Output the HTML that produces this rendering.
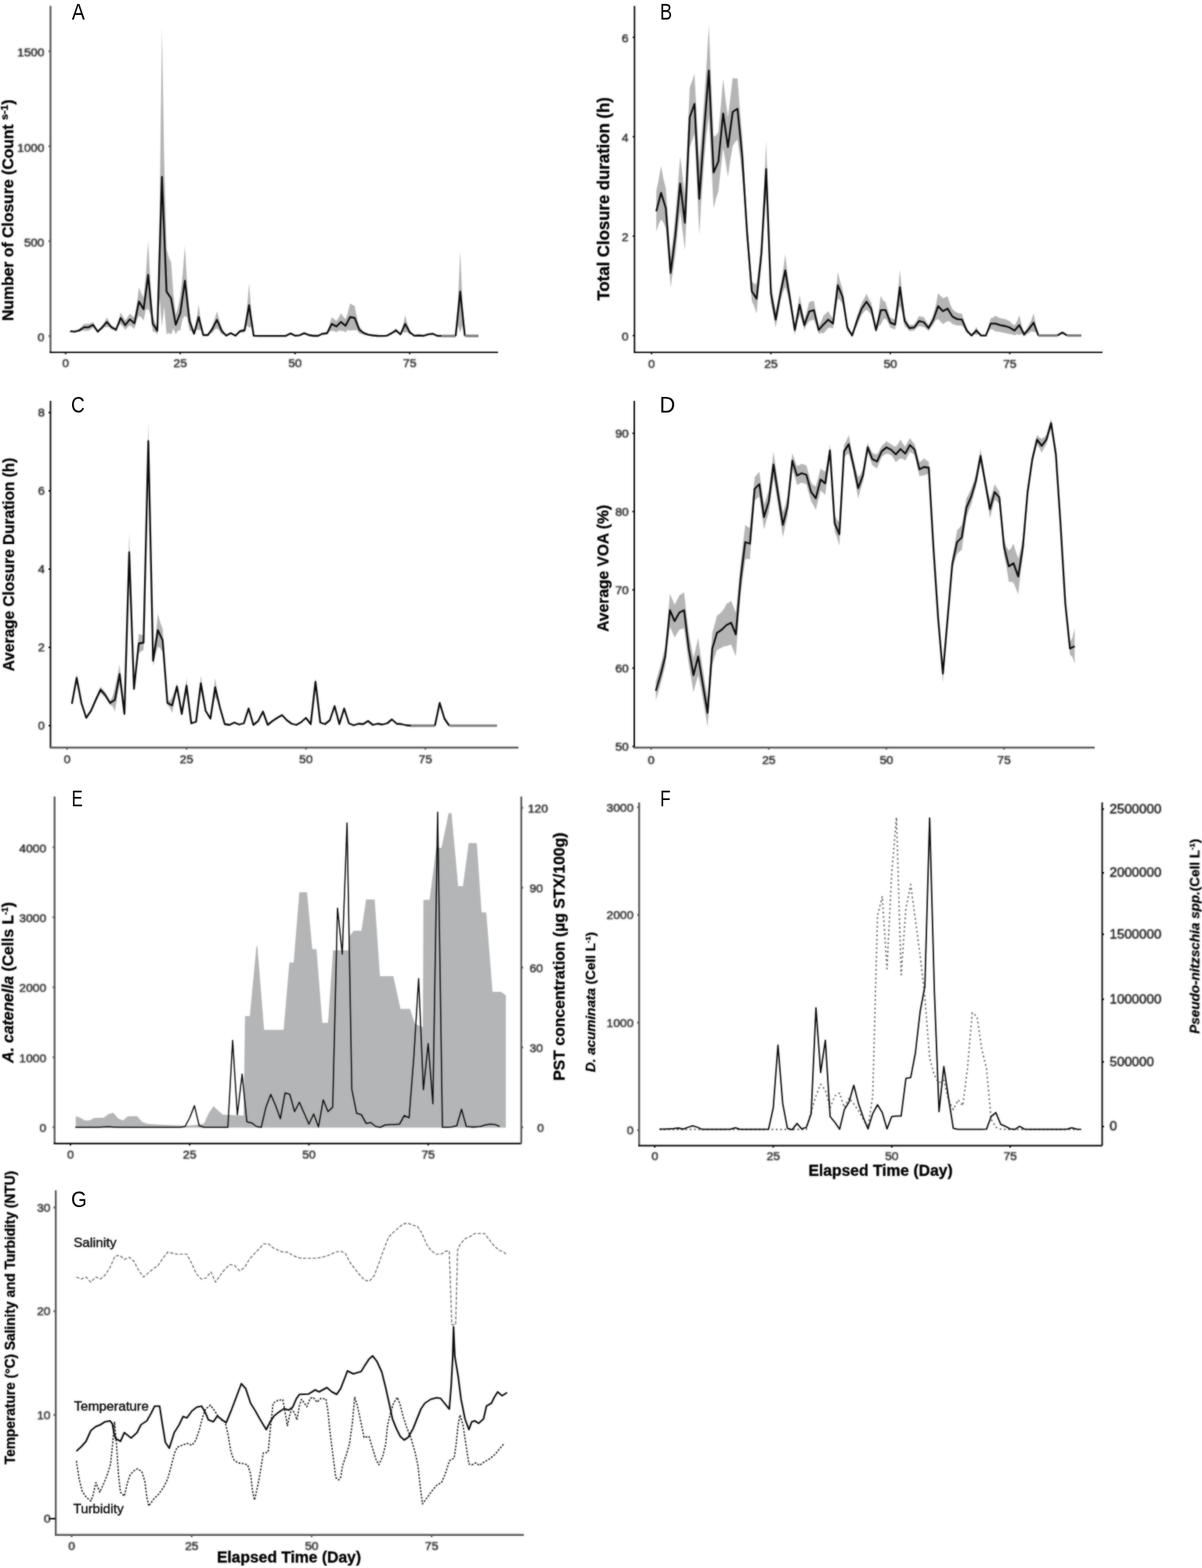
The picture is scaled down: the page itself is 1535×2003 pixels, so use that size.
<!DOCTYPE html>
<html lang="en"><head><meta charset="utf-8"><title>Figure</title>
<style>
html,body{margin:0;padding:0;background:#fff}
body{width:1535px;height:2003px;overflow:hidden}
svg{display:block;font-family:"Liberation Sans",sans-serif}
.tk text{font-size:15.5px;fill:#262626;stroke:#262626;stroke-width:0.5px}
.tk2 text{font-size:17px;fill:#111;stroke:#111;stroke-width:0.45px}
.ti{font-weight:bold;fill:#000;stroke:#000;stroke-width:0.35px}
.lt{fill:#000}
.lb{font-size:17px;fill:#0a0a0a;stroke:#0a0a0a;stroke-width:0.42px}
</style></head><body>
<svg width="1535" height="2003" viewBox="0 0 1535 2003">
<defs><filter id="bl" filterUnits="userSpaceOnUse" x="0" y="0" width="1535" height="2003" color-interpolation-filters="sRGB"><feGaussianBlur stdDeviation="1" result="b"/><feComposite in="b" in2="SourceGraphic" operator="arithmetic" k1="0" k2="0.55" k3="0.45" k4="0"/></filter><filter id="bt" filterUnits="userSpaceOnUse" x="0" y="0" width="1535" height="2003" color-interpolation-filters="sRGB"><feGaussianBlur stdDeviation="1" result="b"/><feComposite in="b" in2="SourceGraphic" operator="arithmetic" k1="0" k2="0.78" k3="0.22" k4="0"/></filter></defs>
<rect width="1535" height="2003" fill="#fff"/>
<g filter="url(#bl)">
<g id="pA">
<g class="dat">
<polygon points="89.6,422.5 92.5,422.7 95.5,422.9 98.4,421.8 101.3,420 104.3,417.4 107.2,413.7 110.1,413.7 113,413.7 116,412.7 118.9,411.3 121.8,417.4 124.8,422.5 127.7,419.3 130.6,415.7 133.6,411.3 136.5,405.2 139.4,411.3 142.3,415.7 145.3,417.6 148.2,419.3 151.1,410.3 154.1,398.9 157,404.4 159.9,409.4 162.9,405.3 165.8,400.6 168.7,403.2 171.7,405.7 174.6,388.8 177.5,366.9 180.4,374.5 183.4,380.5 186.3,350.6 189.2,307.5 192.2,363.4 195.1,404 198,411.9 200.9,417.6 203.9,268 206.8,34.5 209.7,207 212.7,317.9 215.6,328.5 218.5,335.2 221.5,376.6 224.4,402.8 227.3,392.8 230.2,378.3 233.2,351.3 236.1,313.8 239,363.3 242,398 244.9,413.5 247.8,424.4 250.8,409.8 253.7,388.8 256.6,411.3 259.6,427.1 262.5,427.1 265.4,427.1 268.3,422 271.3,415.2 274.2,407.8 277.1,397.5 280.1,409 283,417.6 285.9,423.9 288.9,428.3 291.8,426.5 294.7,424.4 297.6,426.5 300.6,428.3 303.5,425.1 306.4,421.2 309.4,420.5 312.3,419.6 315.2,396.3 318.1,361.4 321.1,401.1 324,428.3 326.9,428.9 329.9,429.2 332.8,429.2 335.7,429.2 338.7,429.2 341.6,429.2 344.5,429.2 347.4,429.2 350.4,429.2 353.3,429.2 356.2,429.2 359.2,429.2 362.1,429.1 365,428.8 368,427 370.9,424.9 373.8,426.9 376.8,428.5 379.7,428.2 382.6,427.8 385.5,426.3 388.5,424.6 391.4,426.2 394.3,427.6 397.3,428.2 400.2,428.8 403.1,428.8 406.1,428.8 409,427.2 411.9,425.1 414.8,424.6 417.8,423.7 420.7,415.9 423.6,405 426.6,407.8 429.5,409.9 432.4,405.9 435.4,400.1 438.3,404.5 441.2,407.7 444.1,399.6 447.1,387.5 450,389.4 452.9,390.4 455.9,405.9 458.8,416.4 461.7,420.7 464.7,423.7 467.6,425.3 470.5,426.6 473.4,427.4 476.4,428 479.3,428.5 482.2,428.8 485.2,429.1 488.1,429.2 491,428.9 494,428.5 496.9,426.8 499.8,424.6 502.7,422.4 505.7,419.6 508.6,423 511.5,425.9 514.5,416.5 517.4,402.6 520.3,413.9 523.2,421.5 526.2,425.4 529.1,428.3 532,428.2 535,428 537.9,428.5 540.8,428.8 543.8,427.6 546.7,426.1 549.6,425.7 552.5,425.1 555.5,427.2 558.4,428.8 561.3,429.1 564.3,429.2 567.2,429.2 570.1,429.2 573.1,429.2 576,429.2 578.9,429.2 581.9,429.2 584.8,386.5 587.7,320.1 590.6,385.9 593.6,428.3 596.5,428.9 599.4,429.2 602.4,429.2 605.3,429.2 608.2,429.2 611.1,429.2 611.1,429.2 608.2,429.2 605.3,429.2 602.4,429.2 599.4,429.2 596.5,429.1 593.6,429.2 590.6,415.4 587.7,424.9 584.8,415.3 581.9,429.2 578.9,429.2 576,429.2 573.1,429.2 570.1,429.2 567.2,429.2 564.3,429.2 561.3,429.2 558.4,429.2 555.5,428.2 552.5,427.6 549.6,427.7 546.7,428 543.8,428.5 540.8,429.2 537.9,429.1 535,429 532,429.1 529.1,429.2 526.2,427.7 523.2,427.3 520.3,424.2 517.4,424.9 514.5,424.3 511.5,428.3 508.6,426.1 505.7,424.4 502.7,425.5 499.8,427.1 496.9,427.8 494,429 491,429.1 488.1,429.2 485.2,429.2 482.2,429.2 479.3,429.1 476.4,429 473.4,428.7 470.5,428.5 467.6,427.8 464.7,427.6 461.7,426.2 458.8,426.1 455.9,421.6 452.9,422 450,421.8 447.1,422.5 444.1,421.5 441.2,424.6 438.3,423 435.4,422.5 432.4,422.6 429.5,424.4 426.6,423.1 423.6,422.5 420.7,423.5 417.8,427.6 414.8,427.4 411.9,427.6 409,428.2 406.1,429.2 403.1,429.2 400.2,429.2 397.3,428.8 394.3,428.5 391.4,427.4 388.5,426.6 385.5,427.6 382.6,428.8 379.7,428.8 376.8,429 373.8,427.8 370.9,426.8 368,427.9 365,429.2 362.1,429.2 359.2,429.2 356.2,429.2 353.3,429.2 350.4,429.2 347.4,429.2 344.5,429.2 341.6,429.2 338.7,429.2 335.7,429.2 332.8,429.2 329.9,429.2 326.9,429.1 324,429.2 321.1,417.6 318.1,418.6 315.2,415.6 312.3,424.4 309.4,424.7 306.4,425.1 303.5,426.9 300.6,429.2 297.6,427.9 294.7,426.8 291.8,427.9 288.9,429.2 285.9,427.3 283,427.3 280.1,422.1 277.1,419.8 274.2,420.9 271.3,424.9 268.3,426.1 265.4,429 262.5,429 259.6,429 256.6,421.7 253.7,421.2 250.8,421.5 247.8,428.3 244.9,423 242,422.2 239,405.5 236.1,403.5 233.2,407.6 230.2,422 227.3,422.3 224.4,427.1 221.5,419.6 218.5,427.3 215.6,425.3 212.7,427.1 209.7,391.5 206.8,417.6 203.9,380.4 200.9,427.3 198,424.3 195.1,423.4 192.2,401.5 189.2,394.8 186.3,395.7 183.4,409.6 180.4,405.6 177.5,403.3 174.6,409.3 171.7,420.3 168.7,417.7 165.8,415.2 162.9,418.1 159.9,421.5 157,417.2 154.1,413.5 151.1,417.1 148.2,423.2 145.3,421.7 142.3,420.5 139.4,418.1 136.5,417.4 133.6,418.1 130.6,420.5 127.7,422.4 124.8,424.9 121.8,421.2 118.9,418.6 116,420.4 113,422.5 110.1,422.5 107.2,422.5 104.3,422.6 101.3,423.9 98.4,423.9 95.5,424.4 92.5,424.2 89.6,423.9" fill="#b5b5b5" opacity="1"/>
<polyline points="89.6,423.2 95.5,423.7 101.3,422 107.2,418.1 113,418.1 118.9,414.9 124.8,423.7 130.6,418.1 136.5,411.3 142.3,418.1 148.2,421.2 154.1,406.2 159.9,415.4 165.8,407.9 171.7,413 177.5,385.1 183.4,395.1 189.2,351.2 195.1,413.7 200.9,422.5 206.8,226 212.7,372.5 218.5,381.2 224.4,414.9 230.2,400.1 236.1,358.7 242,410.1 247.8,426.3 253.7,405 259.6,428 265.4,428 271.3,420 277.1,408.6 283,422.5 288.9,428.8 294.7,425.6 300.6,428.8 306.4,423.2 312.3,422 318.1,390 324,428.8 329.9,429.2 335.7,429.2 341.6,429.2 347.4,429.2 353.3,429.2 359.2,429.2 365,429 370.9,425.9 376.8,428.8 382.6,428.3 388.5,425.6 394.3,428 400.2,429 406.1,429 411.9,426.3 417.8,425.6 423.6,413.7 429.5,417.1 435.4,411.3 441.2,416.2 447.1,405 452.9,406.2 458.8,421.2 464.7,425.6 470.5,427.6 476.4,428.5 482.2,429 488.1,429.2 494,428.8 499.8,425.9 505.7,422 511.5,427.1 517.4,413.7 523.2,424.4 529.1,428.8 535,428.5 540.8,429 546.7,427.1 552.5,426.3 558.4,429 564.3,429.2" fill="none" stroke="#0a0a0a" stroke-width="2.3" stroke-linejoin="round"/>
<polyline points="564.3,429.2 570.1,429.2 576,429.2 581.9,429.2" fill="none" stroke="#7d7d7d" stroke-width="3.1999999999999997" stroke-linejoin="round"/>
<polyline points="581.9,429.2 587.7,372.5 593.6,428.8" fill="none" stroke="#0a0a0a" stroke-width="2.3" stroke-linejoin="round"/>
<polyline points="593.6,428.8 599.4,429.2 605.3,429.2 611.1,429.2" fill="none" stroke="#7d7d7d" stroke-width="3.1999999999999997" stroke-linejoin="round"/>
</g>
<g class="dec">
<path d="M64.5,7.5V450.1M64.5,429.2h-2.4M64.5,308h-2.4M64.5,186.8h-2.4M64.5,65.5h-2.4" fill="none" stroke="#5a5a5a" stroke-width="2.4"/>
<path d="M63.3,450.1H636M83.8,450.1v2.4M230.2,450.1v2.4M376.8,450.1v2.4M523.2,450.1v2.4" fill="none" stroke="#000" stroke-width="1.9"/>
<text class="ti" font-size="20.1" text-anchor="middle" transform="translate(17,268.5) rotate(-90)">Number of Closure (Count <tspan dy="-7" font-size="13.5">s-1</tspan><tspan dy="7">)</tspan></text>
</g>
</g>
<g id="pB">
<g class="dat">
<polygon points="838.1,243.8 841.1,229.8 844.2,212.1 847.2,228.4 850.3,240.6 853.4,286.5 856.4,329.5 859.5,303.7 862.5,274.9 865.5,239.3 868.6,199.4 871.6,224.4 874.7,249.5 877.8,181.3 880.8,111.7 883.9,103.2 886.9,94.6 890,153 893,207.6 896,170.7 899.1,130.2 902.1,85.5 905.2,31.7 908.2,106 911.3,174.6 914.4,173.1 917.4,168.3 920.5,135.7 923.5,100.3 926.5,126.5 929.6,149.8 932.6,125.7 935.7,99 938.8,100.4 941.8,99.7 944.9,140.3 947.9,174.6 951,232.1 954,283.8 957,321.6 960.1,359.4 963.1,362.4 966.2,362.6 969.2,338.6 972.3,311.8 975.4,250.8 978.4,179 981.5,275.9 984.5,361.9 987.5,380.6 990.6,398.1 993.6,381.8 996.7,365.1 999.8,347.4 1002.8,324.5 1005.9,351.2 1008.9,372.7 1012,394.7 1015,415.3 1018,397.3 1021.1,376.5 1024.2,394.2 1027.2,408.9 1030.2,398.8 1033.3,386.1 1036.3,385.1 1039.4,384.2 1042.5,401.9 1045.5,416.5 1048.5,411.3 1051.6,403.2 1054.7,400.5 1057.7,397.5 1060.8,403.2 1063.8,407 1066.8,379.6 1069.9,347.3 1073,360.1 1076,369.5 1079,392.5 1082.1,413.4 1085.2,421.2 1088.2,427.3 1091.2,416.7 1094.3,403.8 1097.3,395.5 1100.4,386.7 1103.5,381.5 1106.5,375.3 1109.5,381.5 1112.6,386.7 1115.7,403.1 1118.7,417.8 1121.8,401.1 1124.8,377.8 1127.8,383.8 1130.9,386.1 1134,396.8 1137,405.7 1140,407 1143.1,408.3 1146.2,379.9 1149.2,344.1 1152.2,377.7 1155.3,403.8 1158.3,410.1 1161.4,415.3 1164.5,414.9 1167.5,414.6 1170.5,409.8 1173.6,403.8 1176.7,404.5 1179.7,405.1 1182.8,410.8 1185.8,415.3 1188.8,409.2 1191.9,401.9 1195,390.6 1198,374.6 1201,377.8 1204.1,381 1207.2,379.8 1210.2,378.4 1213.2,388.1 1216.3,394.9 1219.3,397.5 1222.4,399.4 1225.5,400.2 1228.5,400.7 1231.5,410.9 1234.6,419.1 1237.7,424.1 1240.7,428 1243.8,423.6 1246.8,417.2 1249.8,423.6 1252.9,428 1256,428 1259,428 1262,418.6 1265.1,406.4 1268.2,405.5 1271.2,403.2 1274.2,405.1 1277.3,406.4 1280.3,407 1283.4,407.6 1286.5,409.1 1289.5,410.2 1292.5,413.5 1295.6,415.9 1298.7,410.7 1301.7,402.6 1304.8,416 1307.8,424.8 1310.8,420.6 1313.9,415.3 1317,409.2 1320,400 1323,416.6 1326.1,428 1329.2,428.4 1332.2,428.6 1335.2,428.6 1338.3,428.6 1341.3,428.6 1344.4,428.6 1347.4,428.6 1350.5,428.6 1353.5,426.2 1356.6,422.9 1359.7,426.2 1362.7,428.6 1365.8,428.6 1368.8,428.6 1371.8,428.6 1374.9,428.6 1377.9,428.6 1381,428.6 1381,428.6 1377.9,428.6 1374.9,428.6 1371.8,428.6 1368.8,428.6 1365.8,428.6 1362.7,428.6 1359.7,427.2 1356.6,426.7 1353.5,427.2 1350.5,428.6 1347.4,428.6 1344.4,428.6 1341.3,428.6 1338.3,428.6 1335.2,428.6 1332.2,428.6 1329.2,428.8 1326.1,429.2 1323,424.1 1320,424.2 1317,423.2 1313.9,425.4 1310.8,427.1 1307.8,429.9 1304.8,426.6 1301.7,428 1298.7,426.9 1295.6,428.6 1292.5,427.2 1289.5,426.7 1286.5,425.9 1283.4,425.4 1280.3,424.8 1277.3,424.2 1274.2,423.6 1271.2,423.5 1268.2,421.2 1265.1,420.3 1262,423.4 1259,429.2 1256,429.2 1252.9,429.2 1249.8,427.3 1246.8,427.3 1243.8,427.3 1240.7,429.2 1237.7,426.8 1234.6,425.4 1231.5,419.7 1228.5,415.9 1225.5,415.8 1222.4,415.9 1219.3,414.7 1216.3,414 1213.2,410.7 1210.2,410.2 1207.2,411.9 1204.1,414 1201,410.8 1198,407.6 1195,408.9 1191.9,414.6 1188.8,418.2 1185.8,422.9 1182.8,419.8 1179.7,417.8 1176.7,417.2 1173.6,416.5 1170.5,418.8 1167.5,422.2 1164.5,422.6 1161.4,422.9 1158.3,419.1 1155.3,416.5 1152.2,399.5 1149.2,389.9 1146.2,401.7 1143.1,421 1140,419.7 1137,418.4 1134,411.6 1130.9,406.4 1127.8,408.6 1124.8,414.6 1121.8,416.7 1118.7,425.4 1115.7,412.8 1112.6,401.9 1109.5,398.2 1106.5,395.6 1103.5,398.2 1100.4,401.9 1097.3,408.9 1094.3,416.5 1091.2,422.1 1088.2,429.9 1085.2,425.8 1082.1,423.5 1079,405.1 1076,388.6 1073,383.4 1069.9,381.6 1066.8,398.2 1063.8,419.7 1060.8,418.4 1057.7,419.1 1054.7,422.4 1051.6,426.1 1048.5,424.9 1045.5,426.7 1042.5,415.9 1039.4,408.3 1036.3,409.2 1033.3,410.2 1030.2,414.6 1027.2,421.6 1024.2,410.3 1021.1,401.9 1018,413.5 1015,428 1012,409.2 1008.9,391.8 1005.9,376.5 1002.8,366.4 999.8,372.7 996.7,384.2 993.6,401.2 990.6,418.4 987.5,402.3 984.5,387.3 981.5,314.6 978.4,252.7 975.4,289.5 972.3,337.2 969.2,367.5 966.2,400.7 963.1,391.3 960.1,384.8 957,347 954,309.2 951,264.5 947.9,225.4 944.9,198.8 941.8,178.4 938.8,181.5 935.7,186.7 932.6,205.1 929.6,226 926.5,206.2 923.5,189.2 920.5,215.4 917.4,244.5 914.4,253.5 911.3,266 908.2,204.4 905.2,148.6 902.1,172.9 899.1,206.4 896,251.5 893,300.3 890,233.7 886.9,170.8 883.9,179.4 880.8,187.9 877.8,252.9 874.7,319.4 871.6,294.3 868.6,269.2 865.5,295.3 862.5,325.7 859.5,345.3 856.4,367.6 853.4,328.1 850.3,291.4 847.2,284 844.2,280.6 841.1,286.4 838.1,295.9" fill="#b5b5b5" opacity="1"/>
<polyline points="838.1,269.9 844.2,246.4 850.3,266 856.4,348.6 862.5,300.3 868.6,234.3 874.7,284.5 880.8,149.8 886.9,132.7 893,254 899.1,168.3 905.2,90.1 911.3,220.3 917.4,206.4 923.5,144.8 929.6,187.9 935.7,142.9 941.8,139 947.9,200 954,296.5 960.1,372.1 966.2,381.6 972.3,324.5 978.4,215.9 984.5,374.6 990.6,408.3 996.7,374.6 1002.8,345.4 1008.9,382.2 1015,421.6 1021.1,389.2 1027.2,415.3 1033.3,398.1 1039.4,396.2 1045.5,421.6 1051.6,414.6 1057.7,408.3 1063.8,413.4 1069.9,364.5 1076,379.1 1082.1,418.4 1088.2,428.6 1094.3,410.2 1100.4,394.3 1106.5,385.4 1112.6,394.3 1118.7,421.6 1124.8,396.2 1130.9,396.2 1137,412.1 1143.1,414.6 1149.2,367 1155.3,410.2 1161.4,419.1 1167.5,418.4 1173.6,410.2 1179.7,411.5 1185.8,419.1 1191.9,408.3 1198,391.1 1204.1,397.5 1210.2,394.3 1216.3,404.5 1222.4,407.6 1228.5,408.3 1234.6,422.2 1240.7,428.6 1246.8,422.2 1252.9,428.6 1259,428.6 1265.1,413.4 1271.2,413.4 1277.3,415.3 1283.4,416.5 1289.5,418.4 1295.6,422.2 1301.7,415.3 1307.8,427.3 1313.9,420.3 1320,412.1 1326.1,428.6" fill="none" stroke="#0a0a0a" stroke-width="2.3" stroke-linejoin="round"/>
<polyline points="1326.1,428.6 1332.2,428.6 1338.3,428.6 1344.4,428.6 1350.5,428.6" fill="none" stroke="#7d7d7d" stroke-width="3.1999999999999997" stroke-linejoin="round"/>
<polyline points="1350.5,428.6 1356.6,424.8 1362.7,428.6" fill="none" stroke="#0a0a0a" stroke-width="2.3" stroke-linejoin="round"/>
<polyline points="1362.7,428.6 1368.8,428.6 1374.9,428.6 1381,428.6" fill="none" stroke="#7d7d7d" stroke-width="3.1999999999999997" stroke-linejoin="round"/>
</g>
<g class="dec">
<path d="M810.3,7.5V450.1M810.3,428.6h-2.4M810.3,301.6h-2.4M810.3,174.6h-2.4M810.3,47.6h-2.4" fill="none" stroke="#000" stroke-width="1.9"/>
<path d="M809.3,450.1H1408M832,450.1v2.4M984.5,450.1v2.4M1137,450.1v2.4M1289.5,450.1v2.4" fill="none" stroke="#000" stroke-width="1.9"/>
<text class="ti" font-size="21.4" text-anchor="middle" transform="translate(778,254) rotate(-90)">Total Closure duration (h)</text>
</g>
</g>
<g id="pC">
<g class="dat">
<polygon points="91.8,896.5 94.8,879.2 97.9,860.5 101,878.6 104,895.4 107,906.1 110.1,916.1 113.2,911.4 116.2,906.3 119.2,898.9 122.3,891 125.3,884.2 128.4,876.9 131.4,880.8 134.5,884.5 137.6,890.1 140.6,895.4 143.7,890 146.7,879 149.8,864.3 152.8,848.5 155.8,882.1 158.9,910.6 161.9,800.9 165,680.5 168.1,782.8 171.1,875.8 174.1,844.5 177.2,809.5 180.2,811.1 183.3,811.5 186.3,678.5 189.4,538.5 192.4,691.5 195.5,836.5 198.6,813.3 201.6,784 204.6,794.9 207.7,803 210.8,852 213.8,895.4 216.9,894.9 219.9,891 222.9,883 226,872.5 229.1,892.3 232.1,910.6 235.1,890.3 238.2,866 241.2,897.1 244.3,923.7 247.3,922.7 250.4,921.5 253.4,894.4 256.5,863 259.6,886.5 262.6,906.3 265.6,911.9 268.7,917.2 271.8,894 274.8,865.5 277.8,886.1 280.9,901.9 283.9,913.8 287,924.8 290.1,925.4 293.1,925.9 296.1,924.3 299.2,922.6 302.2,924.1 305.3,925.4 308.3,924.6 311.4,923.7 314.4,913.8 317.5,903 320.6,914.9 323.6,925.9 326.6,923.3 329.7,920.5 332.8,914.2 335.8,907.4 338.8,917 341.9,925.9 344.9,923.3 348,920.5 351,918.4 354.1,916.1 357.1,914.3 360.2,912.3 363.2,916 366.3,919.4 369.3,921.9 372.4,924.3 375.4,925.1 378.5,925.9 381.5,924.1 384.6,922.1 387.6,919.2 390.7,916.1 393.7,920.6 396.8,924.8 399.8,896.5 402.9,866 405.9,895.4 409,922.6 412,923.8 415.1,924.8 418.1,922.2 421.2,919.4 424.2,909.9 427.3,899.8 430.3,912.8 433.4,924.8 436.4,914.3 439.5,903 442.5,913.8 445.6,923.7 448.6,925.1 451.7,926.5 454.7,925.4 457.8,924.3 460.8,924.6 463.9,924.8 466.9,922.7 470,920.5 473,923.3 476.1,925.9 479.1,925.1 482.2,924.3 485.2,924.8 488.3,925.4 491.3,924.6 494.4,923.7 497.4,921.1 500.5,918.3 503.5,921.4 506.6,924.3 509.6,924.6 512.7,924.8 515.8,925.7 518.8,926.5 521.9,926.7 524.9,927 528,927 531,927 534,927 537.1,927 540.1,927 543.2,927 546.2,927 549.3,927 552.4,927 555.4,927 558.5,911.8 561.5,895.4 564.5,906.7 567.6,917.2 570.6,922.3 573.7,927 576.8,927 579.8,927 582.9,927 585.9,927 588.9,927 592,927 595,927 598.1,927 601.1,927 604.2,927 607.2,927 610.3,927 613.4,927 616.4,927 619.5,927 622.5,927 625.6,927 628.6,927 631.6,927 634.7,927 634.7,927 631.6,927 628.6,927 625.6,927 622.5,927 619.5,927 616.4,927 613.4,927 610.3,927 607.2,927 604.2,927 601.1,927 598.1,927 595,927 592,927 588.9,927 585.9,927 582.9,927 579.8,927 576.8,927 573.7,927 570.6,922.7 567.6,918.8 564.5,909.3 561.5,900.6 558.5,913.2 555.4,927 552.4,927 549.3,927 546.2,927 543.2,927 540.1,927 537.1,927 534,927 531,927 528,927 524.9,927 521.9,926.8 518.8,926.5 515.8,925.8 512.7,925.2 509.6,924.9 506.6,924.7 503.5,922.1 500.5,919.7 497.4,921.9 494.4,924.3 491.3,924.9 488.3,925.6 485.2,925.2 482.2,924.7 479.1,925.4 476.1,926.1 473,923.7 470,921.5 466.9,923.3 463.9,925.2 460.8,924.9 457.8,924.7 454.7,925.6 451.7,926.5 448.6,925.4 445.6,924.3 442.5,915.2 439.5,907 436.4,915.7 433.4,925.2 430.3,914.2 427.3,904.2 424.2,912.1 421.2,920.6 418.1,922.8 415.1,925.2 412,924.2 409,923.4 405.9,898.6 402.9,876 399.8,899.5 396.8,925.2 393.7,921.4 390.7,917.9 387.6,920.3 384.6,922.9 381.5,924.4 378.5,926.1 375.4,925.4 372.4,924.7 369.3,922.6 366.3,920.6 363.2,917.5 360.2,914.7 357.1,916.2 354.1,917.9 351,919.6 348,921.5 344.9,923.7 341.9,926.1 338.8,918 335.8,910.6 332.8,915.8 329.7,921.5 326.6,923.7 323.6,926.1 320.6,916.1 317.5,907 314.4,915.2 311.4,924.3 308.3,924.9 305.3,925.6 302.2,924.4 299.2,923.4 296.1,924.7 293.1,926.1 290.1,925.6 287,925.2 283.9,915.2 280.9,906.1 277.8,895.9 274.8,890.5 271.8,902 268.7,918.8 265.6,914.1 262.6,909.7 259.6,894.5 256.5,883 253.4,900.6 250.4,922.5 247.3,923.3 244.3,924.3 241.2,902.9 238.2,886 235.1,897.7 232.1,913.4 229.1,896.7 226,881.5 222.9,895 219.9,911 216.9,904.1 213.8,900.6 210.8,864 207.7,833 204.6,828.1 201.6,826 198.6,835.7 195.5,851.5 192.4,716 189.4,588.5 186.3,706 183.3,830.5 180.2,831.9 177.2,834.5 174.1,857.5 171.1,884.2 168.1,802.7 165,730.5 161.9,816.6 158.9,913.4 155.8,890.9 152.8,873.5 149.8,890.7 146.7,909 143.7,902 140.6,900.6 137.6,895.9 134.5,891.5 131.4,888.2 128.4,885.1 125.3,890.8 122.3,897 119.2,903.1 116.2,909.7 113.2,913.6 110.1,917.9 107,908.9 104,900.6 101,885.4 97.9,871.5 94.8,885.8 91.8,901.5" fill="#b5b5b5" opacity="1"/>
<polyline points="91.8,899 97.9,866 104,898 110.1,917 116.2,908 122.3,894 128.4,881 134.5,888 140.6,898 146.7,894 152.8,861 158.9,912 165,705.5 171.1,880 177.2,822 183.3,821 189.4,563.5 195.5,844 201.6,805 207.7,818 213.8,898 219.9,901 226,877 232.1,912 238.2,876 244.3,924 250.4,922 256.5,873 262.6,908 268.7,918 274.8,878 280.9,904 287,925 293.1,926 299.2,923 305.3,925.5 311.4,924 317.5,905 323.6,926 329.7,921 335.8,909 341.9,926 348,921 354.1,917 360.2,913.5 366.3,920 372.4,924.5 378.5,926 384.6,922.5 390.7,917 396.8,925 402.9,871 409,923 415.1,925 421.2,920 427.3,902 433.4,925 439.5,905 445.6,924 451.7,926.5 457.8,924.5 463.9,925 470,921 476.1,926 482.2,924.5 488.3,925.5 494.4,924 500.5,919 506.6,924.5 512.7,925 518.8,926.5 524.9,927" fill="none" stroke="#0a0a0a" stroke-width="2.3" stroke-linejoin="round"/>
<polyline points="524.9,927 531,927 537.1,927 543.2,927 549.3,927 555.4,927" fill="none" stroke="#7d7d7d" stroke-width="3.1999999999999997" stroke-linejoin="round"/>
<polyline points="555.4,927 561.5,898 567.6,918 573.7,927" fill="none" stroke="#0a0a0a" stroke-width="2.3" stroke-linejoin="round"/>
<polyline points="573.7,927 579.8,927 585.9,927 592,927 598.1,927 604.2,927 610.3,927 616.4,927 622.5,927 628.6,927 634.7,927" fill="none" stroke="#7d7d7d" stroke-width="3.1999999999999997" stroke-linejoin="round"/>
</g>
<g class="dec">
<path d="M64.5,512V955M64.5,927h-2.4M64.5,827h-2.4M64.5,727h-2.4M64.5,627h-2.4M64.5,527h-2.4" fill="none" stroke="#000" stroke-width="1.9"/>
<path d="M63.5,955H662M85.7,955v2.4M238.2,955v2.4M390.7,955v2.4M543.2,955v2.4" fill="none" stroke="#5a5a5a" stroke-width="2.4"/>
<text class="ti" font-size="19.7" text-anchor="middle" transform="translate(17.5,721) rotate(-90)">Average Closure Duration (h)</text>
</g>
</g>
<g id="pD">
<g class="dat">
<polygon points="837.5,870.5 840.5,860.5 843.5,850.5 846.5,838.5 849.5,826.5 852.5,794.5 855.5,758.5 858.5,765.5 861.5,772.5 864.6,766.7 867.6,760.5 870.6,758.7 873.6,756.5 876.6,783.2 879.6,808.5 882.6,825 885.6,840.5 888.6,828 891.6,814.5 894.6,836.8 897.6,856.5 900.6,874.5 903.6,892.5 906.6,851 909.6,808.5 912.6,797.9 915.6,786.5 918.6,784.2 921.6,781.5 924.7,777.4 927.7,771.5 930.7,769.7 933.7,767.5 936.7,775 939.7,782.5 942.7,753.3 945.7,720.5 948.7,696 951.7,670.5 954.7,672.9 957.7,674.5 960.7,643.1 963.7,609.5 966.7,606.2 969.7,602.5 972.7,623.5 975.7,644.5 978.7,636 981.8,626.5 984.8,602.2 987.8,576.5 990.8,598.2 993.8,618.5 996.8,637 999.8,654.5 1002.8,645.4 1005.8,634.5 1008.8,607 1011.8,578.5 1014.8,587.4 1017.8,595.5 1020.8,594 1023.8,592.5 1026.8,593.5 1029.8,594.5 1032.8,605.5 1035.8,616.5 1038.8,619.7 1041.8,621.5 1044.9,610.2 1047.9,598.5 1050.9,600.7 1053.9,602.5 1056.9,586.6 1059.9,567.5 1062.9,613.4 1065.9,658.5 1068.9,664.1 1071.9,667.5 1074.9,619.6 1077.9,568.5 1080.9,562.9 1083.9,555.5 1086.9,571.9 1089.9,586.5 1092.9,599.3 1095.9,609.5 1098.9,605.9 1102,599.5 1105,582.9 1108,565.5 1111,572.4 1114,578.5 1117,579.7 1120,580.5 1123,575.4 1126,569.5 1129,566.7 1132,563.5 1135,565.7 1138,567.5 1141,569.7 1144,570.5 1147,566.4 1150,561.5 1153,566.7 1156,570.5 1159,565 1162,559.5 1165.1,564 1168.1,567.5 1171.1,579.5 1174.1,590.5 1177.1,588.4 1180.1,585.5 1183.1,588.2 1186.1,589.5 1189.1,642.5 1192.1,694.5 1195.1,740.2 1198.1,785.5 1201.1,818.6 1204.1,848.5 1207.1,817.9 1210.1,784.5 1213.1,749 1216.1,712.5 1219.1,696.6 1222.2,677.5 1225.2,674.2 1228.2,670.5 1231.2,654.4 1234.2,636.5 1237.2,630.9 1240.2,624.5 1243.2,615.9 1246.2,606.5 1249.2,590.2 1252.2,573.5 1255.2,592.7 1258.2,610.5 1261.2,625.9 1264.2,638.5 1267.2,628.9 1270.2,618.5 1273.2,623.4 1276.2,627.5 1279.2,658.4 1282.2,688.5 1285.3,698.2 1288.3,703.5 1291.3,700.1 1294.3,694.5 1297.3,704.4 1300.3,713.5 1303.3,702.5 1306.3,686.5 1309.3,655.9 1312.3,622.5 1315.3,602.2 1318.3,581.5 1321.3,568.7 1324.3,555.5 1327.3,558.7 1330.3,560.5 1333.3,558.7 1336.3,555.5 1339.3,545 1342.3,534.5 1345.4,555.2 1348.4,575.5 1351.4,620.5 1354.4,665.5 1357.4,715.2 1360.4,764.5 1363.4,792.9 1366.4,820.5 1369.4,814.9 1372.4,802.5 1372.4,848.5 1369.4,839.1 1366.4,836.5 1363.4,806 1360.4,776.5 1357.4,725.8 1354.4,675.5 1351.4,630.5 1348.4,585.5 1345.4,565.8 1342.3,546.5 1339.3,557 1336.3,567.5 1333.3,572.3 1330.3,578.5 1327.3,572.3 1324.3,567.5 1321.3,579.3 1318.3,591.5 1315.3,612.8 1312.3,634.5 1309.3,671.1 1306.3,710.5 1303.3,732.5 1300.3,759.5 1297.3,751.5 1294.3,744.5 1291.3,742.9 1288.3,743.5 1285.3,723.8 1282.2,708.5 1279.2,675.5 1276.2,643.5 1273.2,640.5 1270.2,638.5 1267.2,650 1264.2,662.5 1261.2,641.1 1258.2,622.5 1255.2,606.3 1252.2,591.5 1249.2,606.8 1246.2,622.5 1243.2,633 1240.2,644.5 1237.2,652.1 1234.2,660.5 1231.2,680.6 1228.2,702.5 1225.2,704.8 1222.2,707.5 1219.1,716.4 1216.1,728.5 1213.1,762.1 1210.1,796.5 1207.1,833.2 1204.1,872.5 1201.1,832.4 1198.1,795.5 1195.1,750.8 1192.1,706.5 1189.1,655.6 1186.1,605.5 1183.1,605.8 1180.1,607.5 1177.1,607.5 1174.1,608.5 1171.1,594.5 1168.1,581.5 1165.1,579 1162,577.5 1159,583 1156,588.5 1153,586.3 1150,585.5 1147,587.5 1144,590.5 1141,585.3 1138,581.5 1135,580.3 1132,579.5 1129,581.3 1126,583.5 1123,590.5 1120,598.5 1117,596.3 1114,594.5 1111,585.5 1108,577.5 1105,596 1102,615.5 1098.9,625.2 1095.9,637.5 1092.9,618.6 1089.9,602.5 1086.9,590.1 1083.9,579.5 1080.9,581.1 1077.9,584.5 1074.9,639.4 1071.9,697.5 1068.9,686.9 1065.9,678.5 1062.9,630.5 1059.9,583.5 1056.9,606.4 1053.9,632.5 1050.9,629.3 1047.9,626.5 1044.9,638.8 1041.8,651.5 1038.8,645.3 1035.8,640.5 1032.8,629.5 1029.8,618.5 1026.8,617.5 1023.8,616.5 1020.8,618 1017.8,619.5 1014.8,608.6 1011.8,598.5 1008.8,628.1 1005.8,658.5 1002.8,671.6 999.8,686.5 996.8,666.1 993.8,646.5 990.8,627.8 987.8,610.5 984.8,631.8 981.8,654.5 978.7,665 975.7,676.5 972.7,655.5 969.7,634.5 966.7,636.8 963.7,639.5 960.7,675.9 957.7,714.5 954.7,714.1 951.7,714.5 948.7,737.1 945.7,760.5 942.7,797.7 939.7,838.5 936.7,831 933.7,823.5 930.7,824.3 927.7,825.5 924.7,825.6 921.6,827.5 918.6,828.8 915.6,830.5 912.6,839 909.6,848.5 906.6,888 903.6,928.5 900.6,910.5 897.6,892.5 894.6,876.1 891.6,862.5 888.6,873.1 885.6,884.5 882.6,866.1 879.6,848.5 876.6,824.8 873.6,802.5 870.6,803.3 867.6,804.5 864.6,809.3 861.5,814.5 858.5,807.5 855.5,800.5 852.5,823.5 849.5,850.5 846.5,862.5 843.5,874.5 840.5,884.5 837.5,894.5" fill="#b5b5b5" opacity="1"/>
<polyline points="837.5,882.5 843.5,862.5 849.5,838.5 855.5,779.5 861.5,793.5 867.6,782.5 873.6,779.5 879.6,828.5 885.6,862.5 891.6,838.5 897.6,874.5 903.6,910.5 909.6,828.5 915.6,808.5 921.6,804.5 927.7,798.5 933.7,795.5 939.7,810.5 945.7,740.5 951.7,692.5 957.7,694.5 963.7,624.5 969.7,618.5 975.7,660.5 981.8,640.5 987.8,593.5 993.8,632.5 999.8,670.5 1005.8,646.5 1011.8,588.5 1017.8,607.5 1023.8,604.5 1029.8,606.5 1035.8,628.5 1041.8,636.5 1047.9,612.5 1053.9,617.5 1059.9,575.5 1065.9,668.5 1071.9,682.5 1077.9,576.5 1083.9,567.5 1089.9,594.5 1095.9,623.5 1102,607.5 1108,571.5 1114,586.5 1120,589.5 1126,576.5 1132,571.5 1138,574.5 1144,580.5 1150,573.5 1156,579.5 1162,568.5 1168.1,574.5 1174.1,599.5 1180.1,596.5 1186.1,597.5 1192.1,700.5 1198.1,790.5 1204.1,860.5 1210.1,790.5 1216.1,720.5 1222.2,692.5 1228.2,686.5 1234.2,648.5 1240.2,634.5 1246.2,614.5 1252.2,582.5 1258.2,616.5 1264.2,650.5 1270.2,628.5 1276.2,635.5 1282.2,698.5 1288.3,723.5 1294.3,719.5 1300.3,736.5 1306.3,698.5 1312.3,628.5 1318.3,586.5 1324.3,561.5 1330.3,569.5 1336.3,561.5 1342.3,540.5 1348.4,580.5 1354.4,670.5 1360.4,770.5 1366.4,828.5 1372.4,825.5" fill="none" stroke="#0a0a0a" stroke-width="2.3" stroke-linejoin="round"/>
</g>
<g class="dec">
<path d="M810,512V955M810,953.5h-2.4M810,853.5h-2.4M810,753.5h-2.4M810,653.5h-2.4M810,553.5h-2.4" fill="none" stroke="#000" stroke-width="1.9"/>
<path d="M809,955H1398M831.5,955v2.4M981.8,955v2.4M1132,955v2.4M1282.2,955v2.4" fill="none" stroke="#5a5a5a" stroke-width="2.4"/>
<text class="ti" font-size="19.9" text-anchor="middle" transform="translate(776.5,726) rotate(-90)">Average VOA (%)</text>
</g>
</g>
<g id="pE">
<g class="dat">
<polygon points="96.7,1440.5 96.7,1425.7 102.2,1427.8 108.3,1431.2 114.4,1431.2 120.5,1428.1 132.6,1427.8 138.7,1423 144.8,1421.6 150.9,1428.8 157,1431.2 163.1,1426.1 175.3,1425.7 181.3,1432.9 187.4,1435.6 199.6,1436.6 236.2,1438 248.3,1437.3 260.5,1435.6 266.6,1422 272.7,1413.1 278.8,1418.9 284.9,1424 311.1,1425 312.9,1297.9 319,1297.9 327.5,1208.8 328.7,1208.8 337.3,1315.6 362.2,1315.6 369.5,1229.5 375,1229.5 382.3,1139.8 392.1,1139.8 398.8,1212.5 404.2,1212.5 411.6,1306.4 418.9,1306.4 425.3,1213.9 445,1213.9 446.9,1195.5 451.7,1189.1 461.5,1189.1 467.6,1149 478.5,1149 485.2,1246.9 502.3,1246.9 511.4,1288.7 523.6,1288.7 529.7,1307.7 540.1,1312.2 540.7,1149.6 548.6,1149.6 557.1,1083 563.8,1083 572.9,1038.8 576.6,1038.8 585.1,1132 591.2,1132 598.5,1076.9 608.9,1076.9 615,1165.6 621,1165.6 629,1266.9 639.9,1266.9 646,1271.4 646,1440.5" fill="#b4b5b6"/>
<polyline points="96.1,1440 102.2,1440 108.3,1440 114.4,1440 120.5,1440 126.5,1440 132.6,1439.6 138.7,1439.3 144.8,1439.7 150.9,1440 157,1440 163.1,1440 169.2,1440 175.3,1440 181.3,1440 187.4,1440 193.5,1440 199.6,1440 205.7,1440 211.8,1440 217.9,1440 224,1440 230.1,1440 236.2,1439.1 242.2,1428 248.3,1412.4 254.4,1438 260.5,1440 266.6,1440 272.7,1440 278.8,1440 284.9,1440 291,1440 297.1,1329 303.1,1424 309.2,1372.1 315.3,1433 321.4,1434.4 327.5,1439 333.6,1440 339.7,1414.1 345.8,1398 351.9,1412 358,1429 364.1,1396 370.1,1398 376.2,1420 382.3,1408 388.4,1422 394.5,1436 400.6,1423 406.7,1439.6 412.8,1405 418.9,1420 424.9,1414.1 431,1160 437.1,1218.7 443.2,1051.3 449.3,1391.7 455.4,1422 461.5,1424 467.6,1435 473.7,1434 479.8,1439 485.8,1440 491.9,1437 498,1436.4 504.1,1436.4 510.2,1436 516.3,1425 522.4,1428 528.5,1350 534.6,1250 540.7,1392 546.8,1333 552.8,1410 558.9,1037.5 565,1440 571.1,1440 577.2,1439.6 583.3,1438 589.4,1417 595.5,1439 601.6,1439.6 607.6,1439.6 613.7,1439 619.8,1437 625.9,1436 632,1436.4 638.1,1439" fill="none" stroke="#0a0a0a" stroke-width="1.55" stroke-linejoin="round"/>
</g>
<g class="dec">
<path d="M69.7,1017.5V1460.8M69.7,1440h-2.4M69.7,1350.6h-2.4M69.7,1261.2h-2.4M69.7,1171.8h-2.4M69.7,1082.4h-2.4" fill="none" stroke="#5a5a5a" stroke-width="2.4"/>
<path d="M68.5,1460.8H665.7M90,1460.8v2.4M242.2,1460.8v2.4M394.5,1460.8v2.4M546.8,1460.8v2.4" fill="none" stroke="#000" stroke-width="1.9"/>
<path d="M665.7,1017.5V1460.8M665.7,1440h2.4M665.7,1338h2.4M665.7,1236h2.4M665.7,1134h2.4M665.7,1032h2.4" fill="none" stroke="#5a5a5a" stroke-width="2.4"/>
<text class="ti" font-size="20" text-anchor="middle" transform="translate(16.5,1255) rotate(-90)"><tspan font-style="italic">A. catenella</tspan> (Cells L<tspan dy="-7" font-size="11">-1</tspan><tspan dy="7">)</tspan></text>
<text class="ti" font-size="20.15" text-anchor="middle" transform="translate(721,1222) rotate(-90)">PST concentration (µg STX/100g)</text>
</g>
</g>
<g id="pF">
<g class="dat">
<polyline points="842.3,1442.7 848.4,1442.7 854.4,1442.7 860.5,1442.7 866.5,1442.7 872.5,1442.7 878.6,1442.7 884.6,1442.7 890.7,1442.7 896.8,1442.7 902.8,1442.7 908.9,1442.7 914.9,1442.7 921,1442.7 927,1442.7 933,1442.7 939.1,1442.7 945.1,1442.7 951.2,1442.7 957.2,1442.7 963.3,1442.7 969.4,1442.7 975.4,1442.7 981.5,1442.7 987.5,1442.7 993.5,1442.7 999.6,1442.7 1005.6,1442.7 1011.7,1442.7 1017.8,1442.7 1023.8,1442.7 1029.8,1442.7 1035.9,1420 1042,1400 1048,1385 1054,1392.5 1060.1,1415 1066.2,1400 1072.2,1396.3 1078.2,1415 1084.3,1402.5 1090.3,1410.1 1096.4,1419 1102.5,1430 1108.5,1440 1114.5,1400 1120.6,1170 1126.7,1145 1132.7,1237.5 1138.8,1115 1144.8,1044 1150.8,1245.1 1156.9,1160 1163,1130 1169,1174.9 1175,1220 1181.1,1274.6 1187.2,1351.6 1193.2,1373.6 1199.2,1383.2 1205.3,1380 1211.3,1405 1217.4,1417.5 1223.5,1405 1229.5,1412.5 1235.5,1365 1241.6,1293.7 1247.7,1298.7 1253.7,1339.9 1259.8,1365 1265.8,1430 1271.8,1440 1277.9,1442.4 1284,1442.7 1290,1442.7 1296,1442.7 1302.1,1442.7 1308.2,1442.7 1314.2,1442.7 1320.2,1442.7 1326.3,1442.7 1332.3,1442.7 1338.4,1442.7 1344.5,1442.7 1350.5,1442.7 1356.5,1442.7 1362.6,1442.7 1368.7,1442.7 1374.7,1442.7 1380.8,1442.7" fill="none" stroke="#6a6a6a" stroke-width="1.9" stroke-linejoin="round" stroke-dasharray="2.2,3.3"/>
<polyline points="842.3,1442.4 848.4,1442.4 854.4,1442.1 860.5,1441.7 866.5,1441 872.5,1442.4 878.6,1440 884.6,1438.2 890.7,1440 896.8,1442.7 902.8,1442.7 908.9,1442.7 914.9,1442.7 921,1442.7 927,1442.7 933,1442.4 939.1,1440.6 945.1,1442.7 951.2,1442.7 957.2,1442.7 963.3,1442.7 969.4,1442.7 975.4,1442.7 981.5,1442.4 987.5,1415 993.5,1335.1 999.6,1410.1 1005.6,1441.3 1011.7,1443.1 1017.8,1435.1 1023.8,1442.1 1029.8,1440 1035.9,1422.6 1042,1287.5 1048,1370 1054,1328.8 1060.1,1426.3 1066.2,1433.8 1072.2,1442.5 1078.2,1417.6 1084.3,1407.6 1090.3,1386.3 1096.4,1410.1 1102.5,1427.5 1108.5,1442.1 1114.5,1422.6 1120.6,1411.3 1126.7,1421.3 1132.7,1442.1 1138.8,1426.3 1144.8,1425.6 1150.8,1425.6 1156.9,1377.6 1163,1376.4 1169,1345 1175,1292.5 1181.1,1260 1187.2,1045 1193.2,1265 1199.2,1420 1205.3,1362.5 1211.3,1402.5 1217.4,1441.3 1223.5,1442.7 1229.5,1442.7 1235.5,1442.7 1241.6,1442.7 1247.7,1442.7 1253.7,1442.7 1259.8,1442.4 1265.8,1426.3 1271.8,1421.3 1277.9,1436.2 1284,1438.8 1290,1442.1 1296,1442.7 1302.1,1438.8 1308.2,1442.4 1314.2,1442.7 1320.2,1442.7 1326.3,1442.7 1332.3,1442.7 1338.4,1442.7 1344.5,1442.7 1350.5,1442.7 1356.5,1442.7 1362.6,1442.4 1368.7,1440.7 1374.7,1442.4 1380.8,1442.7" fill="none" stroke="#0a0a0a" stroke-width="1.8" stroke-linejoin="round"/>
</g>
<g class="dec">
<path d="M816.2,1025V1463.5M816.2,1443.8h-2.4M816.2,1306.2h-2.4M816.2,1168.8h-2.4M816.2,1031.2h-2.4" fill="none" stroke="#5a5a5a" stroke-width="2.4"/>
<path d="M815,1463.5H1407.5M836.2,1463.5v2.4M987.5,1463.5v2.4M1138.8,1463.5v2.4M1290,1463.5v2.4" fill="none" stroke="#000" stroke-width="1.9"/>
<path d="M1407.5,1025V1463.5M1407.5,1439h2.4M1407.5,1356.5h2.4M1407.5,1276.5h2.4M1407.5,1193.5h2.4M1407.5,1115h2.4M1407.5,1033.5h2.4" fill="none" stroke="#000" stroke-width="1.9"/>
<text class="ti" font-size="17.25" text-anchor="middle" transform="translate(760,1280) rotate(-90)"><tspan font-style="italic">D. acuminata</tspan> (Cell L<tspan dy="-6" font-size="9.5">-1</tspan><tspan dy="6">)</tspan></text>
<text class="ti" font-size="17.25" text-anchor="middle" transform="translate(1531.5,1196) rotate(-90)"><tspan font-style="italic">Pseudo-nitzschia spp.</tspan>(Cell L<tspan dy="-6" font-size="9.5">-1</tspan><tspan dy="6">)</tspan></text>
<text class="ti" font-size="20" text-anchor="middle" x="1124.5" y="1502">Elapsed Time (Day)</text>
</g>
</g>
<g id="pG">
<g class="dat">
<polyline points="97.6,1631.3 103.8,1633.9 109.9,1631.3 116,1637.9 122.2,1631.3 128.3,1633.9 134.4,1628.6 140.5,1619.3 146.7,1604.8 152.8,1603.5 158.9,1608.8 165.1,1606.1 171.2,1611.4 177.3,1623.3 183.4,1631.3 189.6,1626 195.7,1620.7 201.8,1616.7 208,1607.4 214.1,1599.5 220.2,1600.8 226.4,1602.1 232.5,1602.1 238.6,1602.1 244.8,1614 250.9,1627.3 257,1633.9 263.1,1632.6 269.3,1624.7 275.4,1637.9 281.5,1628.6 287.7,1620.7 293.8,1615.4 299.9,1616.7 306,1623.3 312.2,1619.3 318.3,1608.8 324.4,1602.1 330.6,1595.5 336.7,1588.9 342.8,1588.9 349,1594.2 355.1,1596.8 361.2,1599.5 367.4,1599.5 373.5,1603.5 379.6,1606.1 385.7,1607.4 391.9,1607.4 398,1607.4 404.1,1607.4 410.3,1606.1 416.4,1604.8 422.5,1602.1 428.6,1599.5 434.8,1598.2 440.9,1600.8 447,1612.7 453.2,1620.7 459.3,1628.6 465.4,1635.2 471.6,1636.6 477.7,1630 483.8,1614 489.9,1596.8 496.1,1580.9 502.2,1574.3 508.3,1569 514.5,1563.7 520.6,1562.4 526.7,1565 532.9,1566.3 539,1575.6 545.1,1590.2 551.2,1598.2 557.4,1602.1 563.5,1602.1 569.6,1598.2 573.7,1598.2 577,1692.2 581.9,1692.2 584.4,1596.8 588,1588.9 594.2,1582.2 600.3,1579.6 606.4,1575.6 612.5,1575.6 618.7,1575.6 624.8,1583.6 630.9,1591.5 637.1,1596.8 643.2,1599.5 646.3,1602.1" fill="none" stroke="#6a6a6a" stroke-width="1.4" stroke-linejoin="round" stroke-dasharray="4,2.2"/>
<polyline points="97.5,1866.2 101.2,1890 105,1905 110,1912.5 116.2,1917.5 118.8,1910 122.5,1893.8 127.5,1906.2 132.5,1895 137.5,1882.5 141.2,1870 143.8,1845 146.2,1816.2 148.8,1845 151.2,1882.5 153.8,1906.2 158.8,1911.2 162.5,1895 166.2,1883.8 171.2,1878.8 175.5,1876.2 181.2,1880 185,1892.5 187.5,1912.5 190,1923.8 196.2,1915 202.5,1908.8 208.8,1900 213.8,1890 218.8,1872.5 222.5,1857.5 226.2,1848.8 232.5,1846.2 238.8,1843.8 245,1846.2 250,1840 255,1825 258.8,1810 262.5,1800 268.8,1795 272.5,1800 277.5,1807.5 282.5,1813.8 287.5,1816.2 291.2,1832.5 295,1855 298.8,1865 303.8,1868.8 310,1869.5 316.2,1871.2 320,1882.5 322.5,1905 325,1916.2 328.8,1900 332.5,1880 336.2,1856.2 342.5,1855 345,1827.5 348.8,1792.5 355,1788.8 361.2,1788 363.8,1802.5 367,1821.2 370,1807.5 372.5,1800 376.2,1805 379.2,1813.8 382.5,1795 385,1787.5 388.8,1792.5 391.8,1797 396.2,1786.2 400,1785 405,1791.2 410,1786.2 416.2,1787 418.8,1802.5 421.2,1827.5 425,1857.5 428.8,1887.5 432.5,1890.5 435,1887.5 437.5,1872.5 442.5,1857.5 446.2,1845 450,1817.5 453,1785 456.2,1795 460,1812.5 465,1836.2 471.2,1835 475,1847.5 480,1863.8 483.8,1871.2 488.8,1860 492.5,1845 495,1820 498.8,1805 502.5,1792.5 507.5,1785 511.2,1795 515,1810 520,1825 525,1837.5 530,1855 533.8,1872.5 536.2,1895 539.5,1921.2 545,1913.8 551.2,1905 557.5,1897.5 563.8,1893.8 568.8,1882.5 573.8,1866.2 580,1862.5 582.5,1845 585,1820 587.5,1807.5 591.2,1820 595,1845 598.8,1870 602.5,1871.2 607.5,1868.8 612.5,1872 617.5,1868 625,1863.8 632.5,1857.5 638.8,1850 643.8,1843.8" fill="none" stroke="#1a1a1a" stroke-width="1.7" stroke-linejoin="round" stroke-dasharray="2.4,1.8"/>
<polyline points="97.5,1853.8 103.8,1848 109.8,1841.2 116,1827.5 122,1822.5 128.2,1820 134.2,1816.2 140.5,1815 143.5,1818.8 145.5,1830 147.5,1837.5 153.8,1841.2 158.8,1830 167.5,1837 175,1830 180,1820 187.5,1815 192.5,1806.2 197.5,1796.2 203.8,1796.2 207.5,1820 211.2,1842.5 216.2,1850 222.5,1830 228.8,1820 233.8,1809.5 238.8,1811.2 245,1802.5 251.2,1797.5 257.5,1796.2 262.5,1805 266.2,1813.8 272.5,1816.2 277.5,1808.8 283.8,1813.8 288.8,1817.5 295,1802.5 301.2,1786.2 308.2,1767.5 313.8,1773.8 320,1792.5 326.2,1802.5 332.5,1813.8 340,1826.2 345,1816.2 350,1808.8 356.2,1803.8 362.5,1799.5 368.8,1801.2 373.8,1797.5 378.8,1786.2 382.5,1781.2 393.8,1780.8 402.5,1775.5 407.5,1778 417.5,1772.5 423.8,1778 430,1781.2 435,1773.8 440,1761.2 443.8,1751.2 451.2,1755 461.2,1752 466.2,1743.8 471.2,1736.2 475.8,1732 481.2,1738.8 487.5,1752.5 492.5,1772.5 497.5,1795 501.2,1812.5 506.2,1825 511.2,1835 516.2,1839.5 521.2,1836.2 527.5,1825 532.5,1812.5 537.5,1800 542.5,1792.5 550,1787.5 557.5,1785.5 562.5,1786.2 568.8,1793.8 573.8,1800 576.2,1770 578.2,1732.5 579.2,1695 580.8,1732.5 585,1757.5 588.8,1787.5 593.8,1812.5 598.8,1826.2 602.5,1816.2 606.2,1815 611.2,1818.2 617.5,1812.5 621.2,1796.2 627.5,1792.5 631.2,1785 635.5,1778 641.2,1783 647.5,1778.8" fill="none" stroke="#0a0a0a" stroke-width="2.1" stroke-linejoin="round"/>
</g>
<g class="dec">
<path d="M71.2,1520.5V1960.8M71.2,1940h-2.8M71.2,1807.5h-2.8M71.2,1675h-2.8M71.2,1542.5h-2.8" fill="none" stroke="#5a5a5a" stroke-width="2.4"/>
<path d="M70,1960.8H669M91.5,1960.8v2.8M244.8,1960.8v2.8M398,1960.8v2.8M551.2,1960.8v2.8" fill="none" stroke="#5a5a5a" stroke-width="2.4"/>
<path d="M62.5,1940H71" stroke="#111" stroke-width="2" fill="none"/>
<text class="ti" font-size="17.5" text-anchor="middle" transform="translate(19,1683) rotate(-90)">Temperature (°C) Salinity and Turbidity (NTU)</text>
<text class="ti" font-size="20" text-anchor="middle" x="369" y="1995.5">Elapsed Time (Day)</text>
<text class="lb" x="94" y="1592.5">Salinity</text>
<text class="lb" x="94.5" y="1801.5">Temperature</text>
<text class="lb" x="93.5" y="1932.5">Turbidity</text>
</g>
</g>
</g>
<g id="ticklabels" filter="url(#bt)">
<g class="tk" text-anchor="middle">
<text x="83.8" y="469">0</text>
<text x="230.2" y="469">25</text>
<text x="376.8" y="469">50</text>
<text x="523.2" y="469">75</text>
</g>
<g class="tk" text-anchor="end">
<text x="56.5" y="436.1">0</text>
<text x="56.5" y="314.8">500</text>
<text x="56.5" y="193.6">1000</text>
<text x="56.5" y="72.3">1500</text>
</g>
<g class="tk" text-anchor="middle">
<text x="832" y="469.5">0</text>
<text x="984.5" y="469.5">25</text>
<text x="1137" y="469.5">50</text>
<text x="1289.5" y="469.5">75</text>
</g>
<g class="tk" text-anchor="end">
<text x="802.5" y="434.6">0</text>
<text x="802.5" y="307.6">2</text>
<text x="802.5" y="180.6">4</text>
<text x="802.5" y="53.6">6</text>
</g>
<g class="tk" text-anchor="middle">
<text x="85.7" y="975">0</text>
<text x="238.2" y="975">25</text>
<text x="390.7" y="975">50</text>
<text x="543.2" y="975">75</text>
</g>
<g class="tk" text-anchor="end">
<text x="57" y="932.2">0</text>
<text x="57" y="832.2">2</text>
<text x="57" y="732.2">4</text>
<text x="57" y="632.2">6</text>
<text x="57" y="532.2">8</text>
</g>
<g class="tk" text-anchor="middle">
<text x="831.5" y="975.5">0</text>
<text x="981.8" y="975.5">25</text>
<text x="1132" y="975.5">50</text>
<text x="1282.2" y="975.5">75</text>
</g>
<g class="tk" text-anchor="end">
<text x="803" y="958.7">50</text>
<text x="803" y="858.7">60</text>
<text x="803" y="758.7">70</text>
<text x="803" y="658.7">80</text>
<text x="803" y="558.7">90</text>
</g>
<g class="tk" text-anchor="middle">
<text x="90" y="1480">0</text>
<text x="242.2" y="1480">25</text>
<text x="394.5" y="1480">50</text>
<text x="546.8" y="1480">75</text>
</g>
<g class="tk" text-anchor="end">
<text x="59" y="1446.2">0</text>
<text x="59" y="1356.8">1000</text>
<text x="59" y="1267.4">2000</text>
<text x="59" y="1178">3000</text>
<text x="59" y="1088.6">4000</text>
</g>
<g class="tk">
<text text-anchor="end" x="694.5" y="1446.2">0</text>
<text text-anchor="end" x="693.5" y="1344.2">30</text>
<text text-anchor="end" x="693.5" y="1242.2">60</text>
<text text-anchor="end" x="693.5" y="1140.2">90</text>
<text text-anchor="start" x="674" y="1038.2">120</text>
</g>
<g class="tk" text-anchor="middle">
<text x="836.2" y="1481.5">0</text>
<text x="987.5" y="1481.5">25</text>
<text x="1138.8" y="1481.5">50</text>
<text x="1290" y="1481.5">75</text>
</g>
<g class="tk" text-anchor="end">
<text x="809" y="1449">0</text>
<text x="809" y="1311.5">1000</text>
<text x="809" y="1174">2000</text>
<text x="809" y="1036.5">3000</text>
</g>
<g class="tk2">
<text text-anchor="start" x="1417" y="1444.2">0</text>
<text text-anchor="start" x="1417" y="1361.7">500000</text>
<text text-anchor="start" x="1417" y="1281.7">1000000</text>
<text text-anchor="start" x="1417" y="1198.7">1500000</text>
<text text-anchor="start" x="1417" y="1120.2">2000000</text>
<text text-anchor="start" x="1417" y="1038.7">2500000</text>
</g>
<g class="tk" text-anchor="middle">
<text x="91.5" y="1979.5">0</text>
<text x="244.8" y="1979.5">25</text>
<text x="398" y="1979.5">50</text>
<text x="551.2" y="1979.5">75</text>
</g>
<g class="tk" text-anchor="end">
<text x="64.5" y="1945.2">0</text>
<text x="64.5" y="1812.7">10</text>
<text x="64.5" y="1680.2">20</text>
<text x="64.5" y="1547.7">30</text>
</g>
</g>
<g id="letters"><text class="lt" font-size="30.07" transform="translate(91.78,24.8) scale(0.826,1)">A</text>
<text class="lt" font-size="30.29" transform="translate(842.63,25.1) scale(0.771,1)">B</text>
<text class="lt" font-size="29.15" transform="translate(90.79,527.11) scale(0.828,1)">C</text>
<text class="lt" font-size="29.28" transform="translate(842.28,527.0) scale(0.947,1)">D</text>
<text class="lt" font-size="28.99" transform="translate(91.5,1029.9) scale(0.734,1)">E</text>
<text class="lt" font-size="28.99" transform="translate(842.95,1029.9) scale(0.753,1)">F</text>
<text class="lt" font-size="29.44" transform="translate(90.7,1542.41) scale(0.882,1)">G</text></g>
</svg>
</body></html>
